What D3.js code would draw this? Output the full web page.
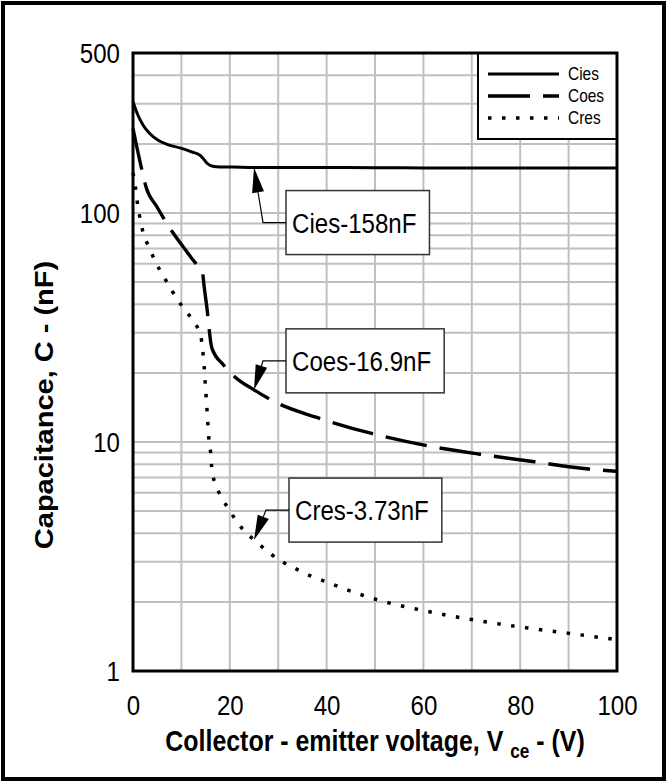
<!DOCTYPE html>
<html>
<head>
<meta charset="utf-8">
<script src="https://cdn.jsdelivr.net/npm/d3@7"></script>
<style>
  body { margin: 0; background: #fff; }
  svg { display: block; font-family: "Liberation Sans", Arial, sans-serif; }
  .grid line { stroke: #c0c0c0; stroke-width: 2; }
</style>
</head>
<body>
<div class="svg-box"></div>
<script>
// values (V in volts, C in nF)
var cies_voltage = [0, 1, 2.1, 3.4, 5.2, 6.9, 9.9, 12.1, 13.8, 14.5, 15.3, 16.5, 18, 20.7, 25, 40, 60, 80, 100];
var cies_values  = [306, 268, 242, 223, 208, 200, 192, 185, 179, 173, 165, 160, 159, 158.7, 158, 158, 157.5, 157.5, 157.5];

var coes_voltage = [0, 1.75, 2.6, 5, 7.6, 10.1, 12, 13.8, 14.3, 14.7, 15.2, 16.3, 18.7, 21, 25, 29.8, 38, 49.3, 60.7, 71.7, 82.9, 94.1, 100];
var coes_values  = [234, 157, 132, 106, 86, 72.5, 64, 57.5, 56, 47.7, 39.7, 25.7, 21.7, 19.3, 16.9, 14.8, 12.8, 10.9, 9.64, 8.84, 8.2, 7.62, 7.45];

var cres_voltage = [0, 0.5, 0.9, 1.4, 2.1, 3.3, 4.6, 6.3, 8.0, 10.2, 12.5, 14.0, 14.4, 14.7, 14.9, 15.1, 15.3, 15.5, 15.7, 16.1, 16.3, 17.1, 18.5, 20.4, 22.8, 25.6, 28.4, 31.1, 34, 36.9, 39.8, 42.4, 50.7, 59.3, 70.5, 81.7, 90.1, 100];
var cres_values  = [150, 130, 111, 96, 82, 71, 61.5, 53, 46, 39, 33.6, 29, 25.2, 21.4, 18.4, 15.9, 13.7, 11.8, 10.1, 8.75, 7.55, 6.5, 5.65, 4.85, 4.13, 3.65, 3.25, 2.98, 2.77, 2.59, 2.46, 2.34, 2.04, 1.85, 1.67, 1.54, 1.46, 1.37];

var series_names = ["Cies", "Coes", "Cres"];
var x_tick_values = [0, 20, 40, 60, 80, 100];
var x_grid_values = [10, 20, 30, 40, 50, 60, 70, 80, 90];
var y_tick_values = [1, 10, 100, 500];
var y_grid_values = [2, 3, 4, 5, 6, 7, 8, 9, 20, 30, 40, 50, 60, 70, 80, 90, 200, 300, 400];

// annotation: label, point on the curve it points to
var annotation_labels  = ["Cies-158nF", "Coes-16.9nF", "Cres-3.73nF"];
var annotation_voltage = [25, 25, 25];
var annotation_values  = [158, 16.9, 3.73];

// the reference text is squeezed horizontally
var squeeze = 0.86;

// set the dimensions and margins of the graph
var margin = {top: 53, right: 50, bottom: 111, left: 133},
    width = 667 - margin.left - margin.right,
    height = 782 - margin.top - margin.bottom;

var svg_root = d3.select(".svg-box")
    .append("svg")
    .attr("width", 667)
    .attr("height", 782);

// outer frame
svg_root.append("rect")
    .attr("x", 3).attr("y", 3)
    .attr("width", 661).attr("height", 776)
    .attr("fill", "none")
    .attr("stroke", "#000")
    .attr("stroke-width", 4);

var svg = svg_root.append("g")
    .attr("transform", "translate(" + margin.left + "," + margin.top + ")");

// set the ranges
var x = d3.scaleLinear().domain([0, 100]).range([0, width]);
var y = d3.scaleLog().domain([1, 500]).range([height, 0]);

// grid
var grid = svg.append("g").attr("class", "grid");
grid.selectAll(".vgrid")
    .data(x_grid_values)
    .enter().append("line")
    .attr("x1", function(d) { return x(d); })
    .attr("x2", function(d) { return x(d); })
    .attr("y1", 0).attr("y2", height);
grid.selectAll(".hgrid")
    .data(y_grid_values.concat([10, 100]))
    .enter().append("line")
    .attr("x1", 0).attr("x2", width)
    .attr("y1", function(d) { return y(d); })
    .attr("y2", function(d) { return y(d); });

// Add the curves
var line = d3.line()
    .x(function(d) { return x(d[0]); })
    .y(function(d) { return y(d[1]); })
    .curve(d3.curveMonotoneX);

var curve_data = [
  d3.zip(cies_voltage, cies_values),
  d3.zip(coes_voltage, coes_values),
  d3.zip(cres_voltage, cres_values)
];
var curve_styles = [
  {width: 3, dash: null},
  {width: 3.4, dash: "42,13"},
  {width: 3.5, dash: "3.5,10.5"}
];

curve_data.forEach(function(data, i) {
  svg.append("path")
      .datum(data)
      .attr("fill", "none")
      .attr("stroke", "#000")
      .attr("stroke-width", curve_styles[i].width)
      .attr("stroke-dasharray", curve_styles[i].dash)
      .attr("d", line);
});

// legend
var legend = svg.append("g")
    .attr("transform", "translate(" + (width - 139) + ",0)");
legend.append("rect")
    .attr("width", 139).attr("height", 86)
    .attr("fill", "#fff")
    .attr("stroke", "#000")
    .attr("stroke-width", 2);
series_names.forEach(function(name, i) {
  var ly = 21 + i * 22;
  legend.append("line")
      .attr("x1", 10).attr("x2", 81)
      .attr("y1", ly).attr("y2", ly)
      .attr("stroke", "#000")
      .attr("stroke-width", curve_styles[i].width)
      .attr("stroke-dasharray", curve_styles[i].dash);
  legend.append("g")
      .attr("transform", "translate(90," + (ly + 6) + ") scale(" + squeeze + ",1)")
      .append("text")
      .attr("font-size", 18)
      .text(name);
});

// plot border
svg.append("rect")
    .attr("width", width).attr("height", height)
    .attr("fill", "none")
    .attr("stroke", "#000")
    .attr("stroke-width", 3);

// Add the Y Axis
var yAxis = svg.append("g")
    .call(d3.axisLeft(y)
      .tickValues(y_tick_values)
      .tickFormat(d3.format("d"))
      .tickSize(0));
yAxis.select(".domain").remove();
yAxis.selectAll("text")
    .attr("font-size", 28)
    .attr("font-family", "Liberation Sans, Arial, sans-serif")
    .attr("fill", "#000")
    .attr("x", -13 / squeeze)
    .attr("dy", "0.35em")
    .attr("transform", "scale(" + squeeze + ",1)");

// Add the X Axis
var xAxis = svg.append("g")
    .attr("transform", "translate(0," + height + ")")
    .call(d3.axisBottom(x)
      .tickValues(x_tick_values)
      .tickFormat(d3.format("d"))
      .tickSize(0)
      .tickPadding(24));
xAxis.select(".domain").remove();
xAxis.selectAll("text")
    .attr("font-size", 28)
    .attr("font-family", "Liberation Sans, Arial, sans-serif")
    .attr("fill", "#000")
    .attr("transform", "scale(" + squeeze + ",1)");

// X axis title
var xTitle = svg.append("g")
    .attr("transform", "translate(" + (width / 2) + "," + (height + 80) + ") scale(" + squeeze + ",1)")
    .append("text")
    .attr("text-anchor", "middle")
    .attr("font-size", 29)
    .attr("font-weight", "bold")
    .style("white-space", "pre");
xTitle.append("tspan").text("Collector - emitter voltage, V ");
xTitle.append("tspan").attr("font-size", 20).attr("dy", 7).text("ce");
xTitle.append("tspan").attr("dy", -7).text(" - (V)");

// Y axis title
svg_root.append("g")
    .attr("transform", "translate(53,405) scale(" + squeeze + ",1) rotate(-90)")
    .append("text")
    .attr("text-anchor", "middle")
    .attr("font-size", 29)
    .attr("font-weight", "bold")
    .text("Capacitance, C - (nF)");

// annotations with arrows
var leader_offsets = [[9, 55], [9, -29], [12, -30]];
annotation_labels.forEach(function(label, i) {
  var tip = [x(annotation_voltage[i]), y(annotation_values[i])];
  var corner = [tip[0] + leader_offsets[i][0], tip[1] + leader_offsets[i][1]];
  var box_left = corner[0] + 23;

  var g = svg.append("g");
  var label_g = g.append("g")
      .attr("transform", "translate(" + (box_left + 6) + "," + (corner[1] + 10) + ") scale(" + squeeze + ",1)");
  var t = label_g.append("text")
      .attr("font-size", 28)
      .text(label);
  var tw = t.node().getComputedTextLength() * squeeze;
  g.insert("rect", ":first-child")
      .attr("x", box_left).attr("y", corner[1] - 32)
      .attr("width", tw + 19).attr("height", 64)
      .attr("fill", "#fff")
      .attr("stroke", "#333")
      .attr("stroke-width", 1.5);

  // arrow
  var dx = tip[0] - corner[0], dy = tip[1] - corner[1];
  var len = Math.sqrt(dx * dx + dy * dy);
  var ux = dx / len, uy = dy / len;
  var base = [tip[0] - ux * 25, tip[1] - uy * 25];
  g.append("path")
      .attr("d", "M" + box_left + "," + corner[1] + "H" + corner[0] + "L" + base[0] + "," + base[1])
      .attr("fill", "none")
      .attr("stroke", "#000")
      .attr("stroke-width", 1.2);
  g.append("path")
      .attr("d", "M" + tip[0] + "," + tip[1] +
                 "L" + (base[0] - uy * 6) + "," + (base[1] + ux * 6) +
                 "L" + (base[0] + uy * 6) + "," + (base[1] - ux * 6) + "Z")
      .attr("fill", "#000");
});
</script>
</body>
</html>
